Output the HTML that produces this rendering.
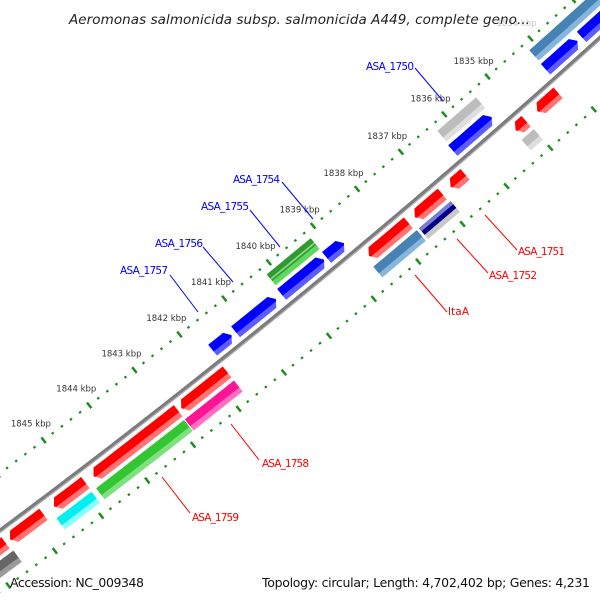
<!DOCTYPE html>
<html><head><meta charset="utf-8"><style>
html,body{margin:0;padding:0;background:#fff;width:600px;height:600px;overflow:hidden;}
svg{display:block;}
text{font-family:"DejaVu Sans","Liberation Sans",sans-serif;}
</style></head><body>
<svg id="map" width="600" height="600" viewBox="0 0 600 600" xmlns="http://www.w3.org/2000/svg">
<rect width="600" height="600" fill="#fff"/>
<g id="ticks"></g>
<g id="genes"></g>
<g id="backbone"></g>
<g font-size="10.5">
<line x1="415" y1="68" x2="443" y2="101" stroke="#0000ff" stroke-width="1"/>
<text x="366" y="70" fill="#0000ff" textLength="48">ASA_1750</text>
<line x1="282" y1="182" x2="313" y2="219" stroke="#0000ff" stroke-width="1"/>
<text x="233" y="183" fill="#0000ff" textLength="47">ASA_1754</text>
<line x1="250" y1="210" x2="280" y2="247" stroke="#0000ff" stroke-width="1"/>
<text x="201" y="210" fill="#0000ff" textLength="48">ASA_1755</text>
<line x1="203" y1="247" x2="233" y2="282" stroke="#0000ff" stroke-width="1"/>
<text x="155" y="247" fill="#0000ff" textLength="48">ASA_1756</text>
<line x1="170" y1="275" x2="198" y2="312" stroke="#0000ff" stroke-width="1"/>
<text x="120" y="274" fill="#0000ff" textLength="48">ASA_1757</text>
<line x1="485" y1="215" x2="517" y2="250" stroke="#ff0000" stroke-width="1"/>
<text x="518" y="255" fill="#ff0000" textLength="47">ASA_1751</text>
<line x1="457" y1="239" x2="488" y2="273" stroke="#ff0000" stroke-width="1"/>
<text x="489" y="279" fill="#ff0000" textLength="48">ASA_1752</text>
<line x1="415" y1="275" x2="447" y2="312" stroke="#ff0000" stroke-width="1"/>
<text x="448" y="315" fill="#ff0000" textLength="21">ltaA</text>
<line x1="231" y1="424" x2="259" y2="460" stroke="#ff0000" stroke-width="1"/>
<text x="262" y="467" fill="#ff0000" textLength="47">ASA_1758</text>
<line x1="162" y1="477" x2="190" y2="513" stroke="#ff0000" stroke-width="1"/>
<text x="192" y="521" fill="#ff0000" textLength="47">ASA_1759</text>
</g>
<text x="300" y="24" text-anchor="middle" font-size="13.5" font-style="italic" fill="#222" textLength="462" letter-spacing="1">Aeromonas salmonicida subsp. salmonicida A449, complete geno...</text>
<text x="10" y="587" font-size="12.5" fill="#111" textLength="134">Accession: NC_009348</text>
<text x="262" y="587" font-size="12.5" fill="#111" textLength="328">Topology: circular; Length: 4,702,402 bp; Genes: 4,231</text>
</svg>
<script>
// ---- data ----
const tickKbp = [1834,1835,1836,1837,1838,1839,1840,1841,1842,1843,1844,1845];
const tickLabels = ["1834 kbp","1835 kbp","1836 kbp","1837 kbp","1838 kbp","1839 kbp","1840 kbp","1841 kbp","1842 kbp","1843 kbp","1844 kbp","1845 kbp"];
const fwdStart = [1832.0,1833.42,1835.41,1838.78,1839.23,1840.31,1841.30];
const fwdEnd   = [1833.32,1834.16,1836.30,1839.17,1840.18,1841.21,1841.72];
const fwd2Start = [1830.5,1835.39,1839.17];
const fwd2End   = [1834.15,1836.28,1840.16];
const fwd2Color = ["steel","gray","darkgreen"];
const revStart = [1834.27,1835.01,1836.41,1836.93,1837.70,1841.76,1842.84,1844.87,1845.78,1846.60];
const revEnd   = [1834.75,1835.25,1836.74,1837.55,1838.59,1842.77,1844.69,1845.55,1846.50,1847.50];
const rev2Start = [1835.00,1836.90,1837.67,1841.76,1842.86,1844.88,1846.57];
const rev2End   = [1835.28,1837.62,1838.65,1842.84,1844.78,1845.64,1848.50];
const rev2Color = ["gray","navy","steel","magenta","green","cyan","dark"];

// ---- geometry ----
const CX=-4877, CY=-6019, R0=8166;
const A0=48.65, DEG_PER_KBP=0.405;
function ang(k){return (A0+(k-1835)*DEG_PER_KBP)*Math.PI/180;}
function pt(k,r){const a=ang(k);return [CX+r*Math.cos(a),CY+r*Math.sin(a)];}
function f(p){return p[0].toFixed(2)+","+p[1].toFixed(2);}
const NS="http://www.w3.org/2000/svg";
function arcPts(k1,k2,r){const n=Math.max(2,Math.ceil(Math.abs(k2-k1)*8));const o=[];for(let i=0;i<=n;i++){o.push(pt(k1+(k2-k1)*i/n,r));}return o;}
function poly(g,pts,fill,name){const e=document.createElementNS(NS,"polygon");e.setAttribute("points",pts.map(f).join(" "));e.setAttribute("fill",fill);


g.appendChild(e);return e;}
const pal={blue:["#0000ff","#5c5cff"],red:["#ff0000","#ff7373"],gray:["#bdbdbd","#dedede"],darkgreen:["#2f9a2f","#5fd85f"],
steel:["#4682b4","#86b6dc"],navy:["#000080","#c8c8c8"],magenta:["#ff1493","#ff70c2"],green:["#33c633","#80e080"],cyan:["#00f0f0","#8affff"],dark:["#666666","#9a9a9a"]};

// ticks
const gt=document.getElementById("ticks");
const RT=8120, RO=8215;
for(let k=1830;k<=1850.001;k+=0.2){
  const kr=Math.round(k*10)/10; const major=Math.abs(kr-Math.round(kr))<1e-6;
  [RT,RO].forEach((r)=>{
    const h=major?3.6:1.1;
    const a=pt(kr,r-h),b=pt(kr,r+h);
    const l=document.createElementNS(NS,"line");
    l.setAttribute("x1",a[0]);l.setAttribute("y1",a[1]);l.setAttribute("x2",b[0]);l.setAttribute("y2",b[1]);
    l.setAttribute("stroke","#1e8c1e");l.setAttribute("stroke-width",2.5);
    
    
    gt.appendChild(l);
  });
}
tickKbp.forEach((k,i)=>{
  const p=pt(k,RT-21);
  const t=document.createElementNS(NS,"text");
  t.setAttribute("x",p[0]);t.setAttribute("y",p[1]+3);t.setAttribute("text-anchor","middle");
  t.setAttribute("font-size","8.5");t.setAttribute("fill",k===1834?"#c8c8c8":"#333");
  
  
  t.textContent=tickLabels[i];gt.appendChild(t);
});

// genes
const gg=document.getElementById("genes");
const W=14, H=0.09;
function plain(s,e,rc,col){
  const r1=rc-W/2,r2=rc+W/2,rs=r1+W*0.62;
  const c=pal[col];
  poly(gg,arcPts(s,e,r1).concat(arcPts(e,s,r2)),c[1],"feature-bar");
  poly(gg,arcPts(s,e,r1).concat(arcPts(e,s,rs)),c[0],"feature-bar-main");
  if(col==="darkgreen"){poly(gg,arcPts(s,e,r1+W*0.38).concat(arcPts(e,s,r1+W*0.5)),"#8fd88f","feature-stripe");}
  if(col==="navy"){poly(gg,arcPts(s,e,r1).concat(arcPts(e,s,r1+W*0.28)),"#7b7bdc","feature-stripe");}
}
function arrow(s,e,rc,col,dir){
  const r1=rc-W/2,r2=rc+W/2,rs=r1+W*0.62;
  const c=pal[col];
  let tipK,baseK,farK;
  if(dir<0){tipK=s;baseK=s+H;farK=e;}else{tipK=e;baseK=e-H;farK=s;}
  const full=arcPts(farK,baseK,r1).concat([pt(tipK,rc)]).concat(arcPts(baseK,farK,r2));
  poly(gg,full,c[1],"gene-arrow");
  const g=(rs-rc)/(r2-rc);
  const main=arcPts(farK,baseK,r1).concat([pt(tipK,rc),pt(tipK+(baseK-tipK)*g,rs)]).concat(arcPts(baseK,farK,rs));
  poly(gg,main,c[0],"gene-arrow-main");
}
fwdStart.forEach((s,i)=>arrow(s,fwdEnd[i],R0-13,"blue",-1));
fwd2Start.forEach((s,i)=>plain(s,fwd2End[i],R0-31,fwd2Color[i]));
revStart.forEach((s,i)=>arrow(s,revEnd[i],R0+13,"red",1));
rev2Start.forEach((s,i)=>plain(s,rev2End[i],R0+31,rev2Color[i]));

// backbone
const gb=document.getElementById("backbone");
function arcPath(r){return "M"+arcPts(1828,1852,r).map(f).join(" L");}
[[R0,4.2,"#7c7c7c"],[R0+1.6,1.2,"#b4b4b4"]].forEach(a=>{
  const p=document.createElementNS(NS,"path");p.setAttribute("d",arcPath(a[0]));p.setAttribute("fill","none");
  p.setAttribute("stroke",a[2]);p.setAttribute("stroke-width",a[1]);
  
  
  gb.appendChild(p);
});
</script>
</body></html>
